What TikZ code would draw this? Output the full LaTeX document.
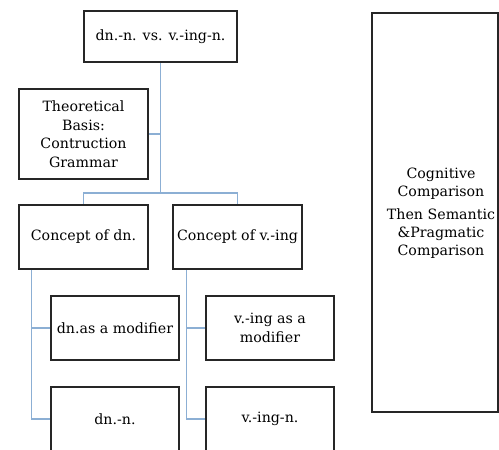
\documentclass[tikz,border=0pt]{standalone}
\usepackage{fontspec}
\setmainfont{DejaVu Serif}
\usetikzlibrary{backgrounds}
\begin{document}
\begin{tikzpicture}[x=1pt,y=-1pt,
  box/.style={draw=black!85,line width=1.4pt,rectangle,align=center,inner sep=0pt,font=\fontsize{14.2}{18.5}\selectfont},
  conn/.style={draw={rgb,255:red,140;green,175;blue,212},line width=1.4pt}]
\useasboundingbox (0,0) rectangle (499,450);
\node[box,minimum width=153pt,minimum height=51pt] (top) at (160.5,36.5) {dn.-n. vs. v.-ing-n.};
\node[box,minimum width=129pt,minimum height=90pt] (theo) at (83.5,134) {Theoretical\\Basis:\\Contruction\\Grammar};
\node[box,minimum width=129pt,minimum height=64pt] (cd) at (83.5,237) {Concept of dn.};
\node[box,minimum width=129pt,minimum height=64pt] (cv) at (237.5,237) {Concept of v.-ing};
\node[box,minimum width=128pt,minimum height=64pt] (dm) at (115,328) {dn.as a modifier};
\node[box,minimum width=128pt,minimum height=64pt] (dn) at (115,419) {dn.-n.};
\node[box,minimum width=128pt,minimum height=64pt] (vm) at (270,328) {v.-ing as a\\modifier};
\node[box,minimum width=128pt,minimum height=64pt] (vn) at (270,419) {v.-ing-n.};
\node[box,minimum width=126pt,minimum height=399pt] (cmp) at (435,212.5) {};
\node[font=\fontsize{14.2}{18}\selectfont,align=center,inner sep=0pt] (cmptext) at (441,213) {Cognitive\\Comparison\\[5pt]Then Semantic\\\&Pragmatic\\Comparison};
\coordinate (j) at (160.5,193);
\begin{scope}[on background layer]
\fill[white] (0,0) rectangle (499,450);
\draw[conn] (top.south) -- (j);
\draw[conn] (theo.east) -- (theo.east -| top.south);
\draw[conn] (cd.north) |- (j) -| (cv.north);
\draw[conn] ([xshift=13pt]cd.south west) |- (dm.west);
\draw[conn] ([xshift=13pt]cd.south west) |- (dn.west);
\draw[conn] ([xshift=14pt]cv.south west) |- (vm.west);
\draw[conn] ([xshift=14pt]cv.south west) |- (vn.west);
\end{scope}
\end{tikzpicture}
\end{document}
